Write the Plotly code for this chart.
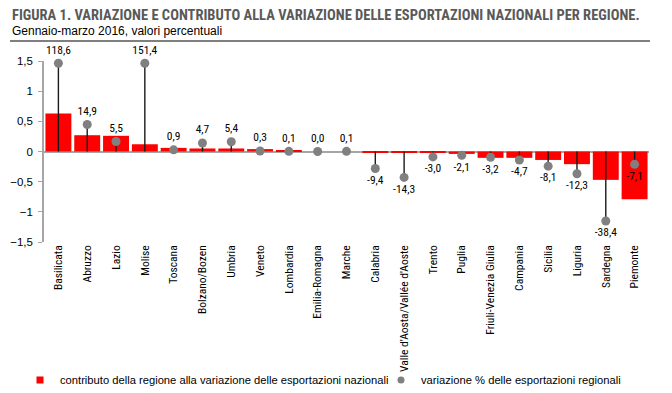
import numpy as np
import plotly.graph_objects as go
from plotly.subplots import make_subplots

regions = ["Basilicata", "Abruzzo", "Lazio", "Molise", "Toscana", "Bolzano/Bozen", "Umbria",
           "Veneto", "Lombardia", "Emilia-Romagna", "Marche", "Calabria",
           "Valle d'Aosta/Vallée d'Aoste", "Trento", "Puglia", "Friuli-Venezia Giulia",
           "Campania", "Sicilia", "Liguria", "Sardegna", "Piemonte"]
contributo = [0.63, 0.27, 0.26, 0.12, 0.06, 0.05, 0.05, 0.04, 0.02, 0.0, 0.0, -0.01,
              -0.01, -0.02, -0.04, -0.105, -0.105, -0.14, -0.21, -0.47, -0.79]
variazione = [118.6, 14.9, 5.5, 151.4, 0.9, 4.7, 5.4, 0.3, 0.1, 0.0, 0.1, -9.4,
              -14.3, -3.0, -2.1, -3.2, -4.7, -8.1, -12.3, -38.4, -7.1]
yticks = [-1.5, -1, -0.5, 0, 0.5, 1, 1.5]

SEC_MAX = 50
# the page body has an 8px margin, so the figure is drawn 8px smaller and offset
OFF = 8
W, H = 672 - OFF, 393 - OFF
ML, MR, MT, MB = 36, 23, 53, 151
pw, ph = W - ML - MR, H - MT - MB

NARROW = "Liberation Sans Narrow, Arial Narrow, Roboto Condensed, Liberation Sans, Arial, sans-serif"
REG = "Liberation Sans, Arial, sans-serif"

var = np.array(variazione)
shown = np.clip(var, -SEC_MAX * 0.975, SEC_MAX * 0.975)
labels = [f"{v:.1f}".replace(".", ",") for v in variazione]
up = np.where(shown > 0, shown, 0)
down = np.where(shown < 0, -shown, 0)

NAME_BAR = "contributo della regione alla variazione delle esportazioni nazionali"
NAME_DOT = "variazione % delle esportazioni regionali"

fig = make_subplots(specs=[[{"secondary_y": True}]])
fig.add_trace(go.Bar(x=regions, y=contributo, marker=dict(color="#ff0000", line=dict(width=0)),
                     name=NAME_BAR, showlegend=False), secondary_y=False)

pos = shown >= 0
for mask, tpos in [(pos, "top center"), (~pos, "bottom center")]:
    fig.add_trace(go.Scatter(
        x=[r for r, m in zip(regions, mask) if m], y=shown[mask],
        mode="markers+text", text=[l for l, m in zip(labels, mask) if m], textposition=tpos,
        textfont=dict(size=11.5, color="black", family=NARROW),
        marker=dict(color="#808080", size=9),
        error_y=dict(type="data", symmetric=False, array=down[mask], arrayminus=up[mask],
                     width=0, thickness=1.4, color="#1a1a1a"),
        name=NAME_DOT, showlegend=False, cliponaxis=False), secondary_y=True)

# legend entries
fig.add_trace(go.Scatter(x=[None], y=[None], mode="markers", name=NAME_BAR, legend="legend",
                         marker=dict(symbol="square", color="#ff0000", size=7)), secondary_y=False)
fig.add_trace(go.Scatter(x=[None], y=[None], mode="markers", name=NAME_DOT, legend="legend2",
                         marker=dict(symbol="circle", color="#808080", size=7)), secondary_y=False)

def px2paper(xp, yp):
    # xp, yp in reference-page pixels
    return (xp - OFF - ML) / pw, (H - MB - (yp - OFF)) / ph

lgx, lgy = px2paper(20, 380)
lg2x, _ = px2paper(381, 380)
legend_style = dict(orientation="h", xanchor="left", y=lgy, yanchor="middle",
                    font=dict(size=11.2, family=REG), itemwidth=30, bgcolor="rgba(0,0,0,0)")
fig.update_layout(
    width=W, height=H, margin=dict(l=ML, r=MR, t=MT, b=MB, autoexpand=False),
    plot_bgcolor="white", paper_bgcolor="white",
    separators=",.", bargap=0.1,
    font=dict(family=REG, size=11, color="black"),
    showlegend=True,
    legend=dict(x=lgx, **legend_style),
    legend2=dict(x=lg2x, **legend_style),
)
fig.update_xaxes(tickangle=-90, showline=False, ticks="", showgrid=False, automargin=False,
                 range=[-0.5, len(regions) - 0.5], domain=[0, 1],
                 tickfont=dict(size=11.5, family=NARROW))
fig.update_yaxes(range=[-1.5, 1.5], tickvals=yticks, showgrid=False, zeroline=True,
                 zerolinecolor="#a6a6a6", zerolinewidth=2, showline=True, linecolor="#a6a6a6",
                 linewidth=1.5, ticks="outside", ticklen=4, tickcolor="#a6a6a6", automargin=False,
                 ticklabelstandoff=3, tickfont=dict(size=11.5, family=REG), secondary_y=False)
fig.update_yaxes(range=[-SEC_MAX, SEC_MAX], visible=False, showgrid=False, zeroline=False,
                 automargin=False, secondary_y=True)

tx, ty = px2paper(10, 15)
fig.add_annotation(xref="paper", yref="paper", x=tx, y=ty, xanchor="left", yanchor="middle",
                   showarrow=False,
                   text="<b>FIGURA 1. VARIAZIONE E CONTRIBUTO ALLA VARIAZIONE DELLE ESPORTAZIONI NAZIONALI PER REGIONE.</b>",
                   font=dict(size=14.5, color="#595959", family=NARROW))
sx, sy = px2paper(10, 31)
fig.add_annotation(xref="paper", yref="paper", x=sx, y=sy, xanchor="left", yanchor="middle",
                   showarrow=False, text="Gennaio-marzo 2016, valori percentuali",
                   font=dict(size=12, color="black", family=REG))
x0, ly = px2paper(10, 41)
x1, _ = px2paper(650, 41)
fig.add_shape(type="line", xref="paper", yref="paper", x0=x0, x1=x1, y0=ly, y1=ly,
              line=dict(color="black", width=1.2))

fig.write_html("out.html")
